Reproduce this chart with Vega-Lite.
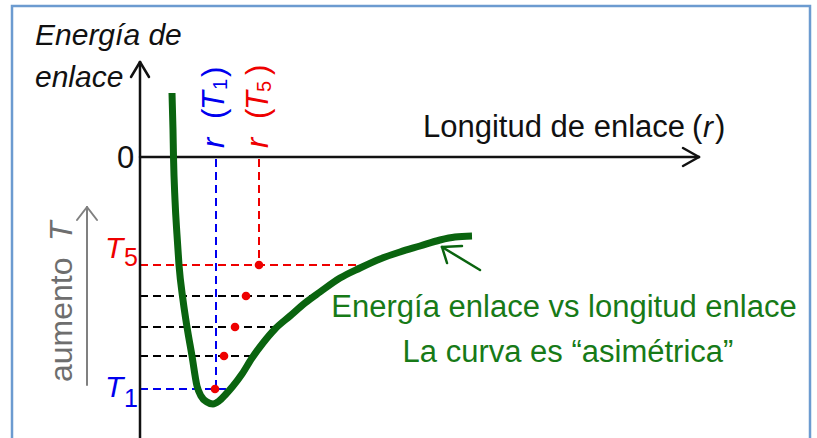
{
  "$schema": "https://vega.github.io/schema/vega-lite/v6.json",
  "width": 817,
  "height": 438,
  "autosize": {"type": "none"},
  "padding": 0,
  "background": "#ffffff",
  "config": {"view": {"stroke": null}, "text": {"font": "Liberation Sans"}},
  "datasets": {
    "borde": [{"x": -128, "x2": 670, "y": 151, "y2": -290}],
    "curva": [
      {"i": 1, "r": 32, "E": 64}, {"i": 2, "r": 33, "E": 27}, {"i": 3, "r": 33.5, "E": 0},
      {"i": 4, "r": 35, "E": -43}, {"i": 5, "r": 37, "E": -78}, {"i": 6, "r": 39, "E": -108},
      {"i": 7, "r": 43, "E": -143}, {"i": 8, "r": 47, "E": -170}, {"i": 9, "r": 52, "E": -199},
      {"i": 10, "r": 57, "E": -229}, {"i": 11, "r": 61, "E": -239}, {"i": 12, "r": 67, "E": -245},
      {"i": 13, "r": 73, "E": -247}, {"i": 14, "r": 79, "E": -244}, {"i": 15, "r": 86, "E": -237},
      {"i": 16, "r": 93, "E": -229}, {"i": 17, "r": 102, "E": -217}, {"i": 18, "r": 112, "E": -201},
      {"i": 19, "r": 123, "E": -186}, {"i": 20, "r": 135, "E": -172}, {"i": 21, "r": 150, "E": -159},
      {"i": 22, "r": 165, "E": -146}, {"i": 23, "r": 180, "E": -135}, {"i": 24, "r": 200, "E": -121},
      {"i": 25, "r": 220, "E": -111}, {"i": 26, "r": 240, "E": -102}, {"i": 27, "r": 260, "E": -95},
      {"i": 28, "r": 280, "E": -89}, {"i": 29, "r": 300, "E": -83}, {"i": 30, "r": 315, "E": -80},
      {"i": 31, "r": 332, "E": -79}
    ],
    "guias": [
      {"grupo": "T1", "x": 76, "y": -2, "x2": 76, "y2": -232},
      {"grupo": "T1", "x": 0, "y": -232, "x2": 87, "y2": -232},
      {"grupo": "T5", "x": 119, "y": -2, "x2": 119, "y2": -108},
      {"grupo": "T5", "x": 0, "y": -108, "x2": 225, "y2": -108},
      {"grupo": "otro", "x": 0, "y": -139, "x2": 170, "y2": -139},
      {"grupo": "otro", "x": 0, "y": -170, "x2": 138, "y2": -170},
      {"grupo": "otro", "x": 0, "y": -199, "x2": 111, "y2": -199}
    ],
    "ejes": [
      {"x": 0, "y": -290, "x2": 0, "y2": 95},
      {"x": 0, "y": 0, "x2": 559, "y2": 0},
      {"x": 0, "y": 95, "x2": -9, "y2": 80},
      {"x": 0, "y": 95, "x2": 9, "y2": 80},
      {"x": 559, "y": 0, "x2": 543, "y2": 9},
      {"x": 559, "y": 0, "x2": 543, "y2": -9}
    ],
    "flechaT": [
      {"x": -53, "y": -228, "x2": -53, "y2": -50},
      {"x": -53, "y": -50, "x2": -63, "y2": -63},
      {"x": -53, "y": -50, "x2": -43, "y2": -63}
    ],
    "flechaVerde": [
      {"x": 340, "y": -113, "x2": 302, "y2": -90},
      {"x": 302, "y": -90, "x2": 322, "y2": -89},
      {"x": 302, "y": -90, "x2": 307, "y2": -106}
    ],
    "puntos": [
      {"r": 119, "E": -108}, {"r": 106, "E": -139}, {"r": 95, "E": -170},
      {"r": 84, "E": -199}, {"r": 75, "E": -232}
    ],
    "txtItalNegro": [
      {"t": "Energía de", "x": -105, "y": 112},
      {"t": "enlace", "x": -105, "y": 70},
      {"t": "r", "x": 563, "y": 20}
    ],
    "txtNegro": [
      {"t": "0", "x": -23, "y": -11},
      {"t": "Longitud de enlace", "x": 283, "y": 20},
      {"t": "(", "x": 552, "y": 20},
      {"t": ")", "x": 575, "y": 20}
    ],
    "txtVerde": [
      {"t": "Energía enlace vs longitud enlace", "x": 424, "y": -160},
      {"t": "La curva es “asimétrica”", "x": 428, "y": -205}
    ],
    "txtTItal": [
      {"grupo": "T5", "t": "T", "x": -35, "y": -101},
      {"grupo": "T1", "t": "T", "x": -35, "y": -240}
    ],
    "txtTSub": [
      {"grupo": "T5", "t": "5", "x": -16, "y": -109},
      {"grupo": "T1", "t": "1", "x": -16, "y": -250}
    ],
    "vertItal": [
      {"grupo": "T1", "t": "r", "x": 84, "y": 9},
      {"grupo": "T5", "t": "r", "x": 128, "y": 9},
      {"grupo": "T1", "t": "T", "x": 84, "y": 47},
      {"grupo": "T5", "t": "T", "x": 128, "y": 47}
    ],
    "vertNormal": [
      {"grupo": "T1", "t": "(", "x": 84, "y": 38},
      {"grupo": "T5", "t": "(", "x": 128, "y": 38},
      {"grupo": "T1", "t": ")", "x": 84, "y": 80},
      {"grupo": "T5", "t": ")", "x": 128, "y": 82}
    ],
    "vertSub": [
      {"grupo": "T1", "t": "1", "x": 87, "y": 67},
      {"grupo": "T5", "t": "5", "x": 131, "y": 65}
    ],
    "aumento": [{"t": "aumento", "x": -68, "y": -225}],
    "aumentoT": [{"t": "T", "x": -68, "y": -84}]
  },
  "encoding": {},
  "layer": [
    {
      "data": {"name": "borde"},
      "mark": {"type": "rect", "filled": false, "color": "#6c9bd0", "strokeWidth": 2.5},
      "encoding": {
        "x": {"field": "x", "type": "quantitative", "scale": {"domain": [-140, 677], "nice": false, "zero": false}, "axis": null},
        "x2": {"field": "x2"},
        "y": {"field": "y", "type": "quantitative", "scale": {"domain": [-281, 157], "nice": false, "zero": false}, "axis": null},
        "y2": {"field": "y2"}
      }
    },
    {
      "data": {"name": "guias"},
      "mark": {"type": "rule", "strokeWidth": 2, "strokeDash": [8, 5]},
      "encoding": {
        "x": {"field": "x", "type": "quantitative"},
        "x2": {"field": "x2"},
        "y": {"field": "y", "type": "quantitative"},
        "y2": {"field": "y2"},
        "color": {"field": "grupo", "type": "nominal", "scale": {"domain": ["T1", "T5", "otro"], "range": ["#0000ee", "#ee0000", "#000000"]}, "legend": null}
      }
    },
    {
      "data": {"name": "ejes"},
      "mark": {"type": "rule", "strokeWidth": 2.5, "color": "#111111", "strokeCap": "round"},
      "encoding": {
        "x": {"field": "x", "type": "quantitative"},
        "x2": {"field": "x2"},
        "y": {"field": "y", "type": "quantitative"},
        "y2": {"field": "y2"}
      }
    },
    {
      "data": {"name": "flechaT"},
      "mark": {"type": "rule", "strokeWidth": 2, "color": "#808080", "strokeCap": "round"},
      "encoding": {
        "x": {"field": "x", "type": "quantitative"},
        "x2": {"field": "x2"},
        "y": {"field": "y", "type": "quantitative"},
        "y2": {"field": "y2"}
      }
    },
    {
      "data": {"name": "curva"},
      "mark": {"type": "line", "color": "#0a640f", "strokeWidth": 7, "interpolate": "monotone", "strokeJoin": "round"},
      "encoding": {
        "x": {"field": "r", "type": "quantitative"},
        "y": {"field": "E", "type": "quantitative"},
        "order": {"field": "i", "type": "quantitative"}
      }
    },
    {
      "data": {"name": "flechaVerde"},
      "mark": {"type": "rule", "strokeWidth": 2.5, "color": "#0a640f", "strokeCap": "round"},
      "encoding": {
        "x": {"field": "x", "type": "quantitative"},
        "x2": {"field": "x2"},
        "y": {"field": "y", "type": "quantitative"},
        "y2": {"field": "y2"}
      }
    },
    {
      "data": {"name": "puntos"},
      "mark": {"type": "point", "filled": true, "color": "#ee0000", "opacity": 1, "size": 75},
      "encoding": {
        "x": {"field": "r", "type": "quantitative"},
        "y": {"field": "E", "type": "quantitative"}
      }
    },
    {
      "data": {"name": "txtItalNegro"},
      "mark": {"type": "text", "fontStyle": "italic", "fontSize": 30, "align": "left", "baseline": "alphabetic", "color": "#111111"},
      "encoding": {
        "x": {"field": "x", "type": "quantitative"},
        "y": {"field": "y", "type": "quantitative"},
        "text": {"field": "t"}
      }
    },
    {
      "data": {"name": "txtNegro"},
      "mark": {"type": "text", "fontSize": 31, "align": "left", "baseline": "alphabetic", "color": "#111111"},
      "encoding": {
        "x": {"field": "x", "type": "quantitative"},
        "y": {"field": "y", "type": "quantitative"},
        "text": {"field": "t"}
      }
    },
    {
      "data": {"name": "txtVerde"},
      "mark": {"type": "text", "fontSize": 31, "align": "center", "baseline": "alphabetic", "color": "#177a17"},
      "encoding": {
        "x": {"field": "x", "type": "quantitative"},
        "y": {"field": "y", "type": "quantitative"},
        "text": {"field": "t"}
      }
    },
    {
      "data": {"name": "txtTItal"},
      "mark": {"type": "text", "fontStyle": "italic", "fontSize": 30, "align": "left", "baseline": "alphabetic"},
      "encoding": {
        "x": {"field": "x", "type": "quantitative"},
        "y": {"field": "y", "type": "quantitative"},
        "text": {"field": "t"},
        "color": {"field": "grupo", "type": "nominal", "legend": null}
      }
    },
    {
      "data": {"name": "txtTSub"},
      "mark": {"type": "text", "fontSize": 25, "align": "left", "baseline": "alphabetic"},
      "encoding": {
        "x": {"field": "x", "type": "quantitative"},
        "y": {"field": "y", "type": "quantitative"},
        "text": {"field": "t"},
        "color": {"field": "grupo", "type": "nominal", "legend": null}
      }
    },
    {
      "data": {"name": "vertItal"},
      "mark": {"type": "text", "fontStyle": "italic", "fontSize": 31, "align": "left", "baseline": "alphabetic", "angle": 270},
      "encoding": {
        "x": {"field": "x", "type": "quantitative"},
        "y": {"field": "y", "type": "quantitative"},
        "text": {"field": "t"},
        "color": {"field": "grupo", "type": "nominal", "legend": null}
      }
    },
    {
      "data": {"name": "vertNormal"},
      "mark": {"type": "text", "fontSize": 31, "align": "left", "baseline": "alphabetic", "angle": 270},
      "encoding": {
        "x": {"field": "x", "type": "quantitative"},
        "y": {"field": "y", "type": "quantitative"},
        "text": {"field": "t"},
        "color": {"field": "grupo", "type": "nominal", "legend": null}
      }
    },
    {
      "data": {"name": "vertSub"},
      "mark": {"type": "text", "fontSize": 20, "align": "left", "baseline": "alphabetic", "angle": 270},
      "encoding": {
        "x": {"field": "x", "type": "quantitative"},
        "y": {"field": "y", "type": "quantitative"},
        "text": {"field": "t"},
        "color": {"field": "grupo", "type": "nominal", "legend": null}
      }
    },
    {
      "data": {"name": "aumento"},
      "mark": {"type": "text", "fontSize": 32, "align": "left", "baseline": "alphabetic", "angle": 270, "color": "#6e6e6e"},
      "encoding": {
        "x": {"field": "x", "type": "quantitative"},
        "y": {"field": "y", "type": "quantitative"},
        "text": {"field": "t"}
      }
    },
    {
      "data": {"name": "aumentoT"},
      "mark": {"type": "text", "fontStyle": "italic", "fontSize": 32, "align": "left", "baseline": "alphabetic", "angle": 270, "color": "#6e6e6e"},
      "encoding": {
        "x": {"field": "x", "type": "quantitative"},
        "y": {"field": "y", "type": "quantitative"},
        "text": {"field": "t"}
      }
    }
  ]
}
